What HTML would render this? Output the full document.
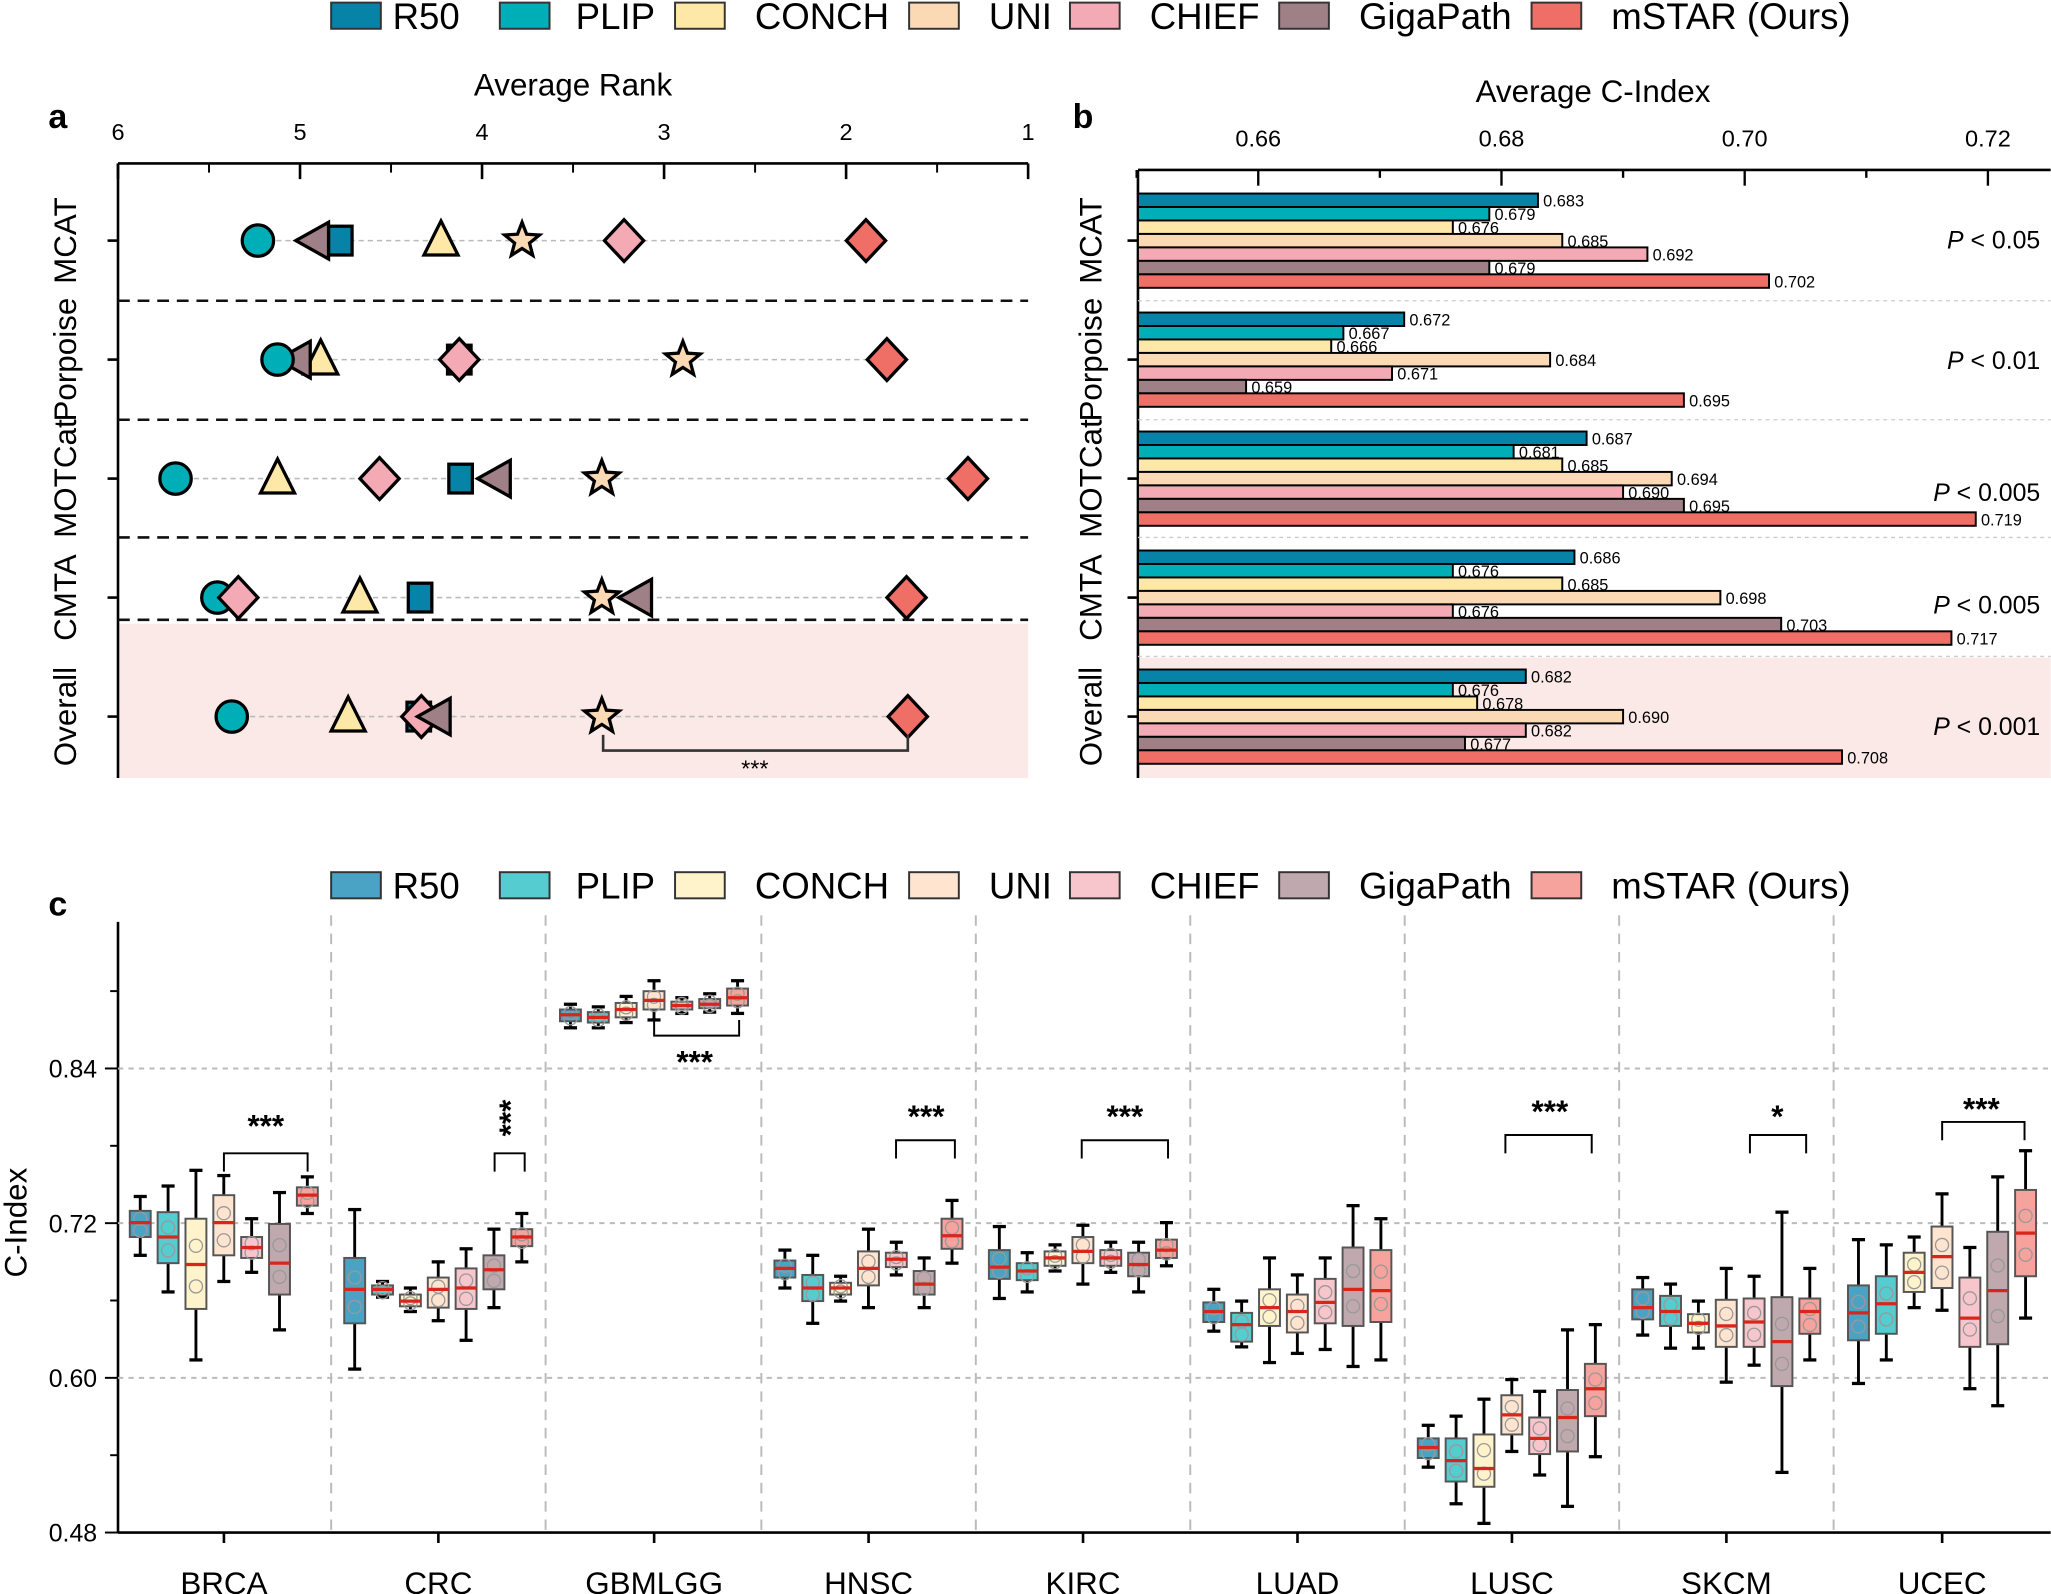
<!DOCTYPE html>
<html><head><meta charset="utf-8"><style>
html,body{margin:0;padding:0;background:#fff;}
svg{display:block;font-family:"Liberation Sans",Arial,sans-serif;}
</style></head><body>
<svg id="s" width="2051" height="1594" viewBox="0 0 1568 1219" xmlns="http://www.w3.org/2000/svg"></svg>
<script>
const S=document.getElementById('s');let h='';
const C=['#0783a8','#00aeb8','#fde8a8','#fcd9b5','#f3aab5','#9e8086','#ef6f67'];
const CL=['#4aa3c4','#55ccd0','#fff3cc','#ffe5d0','#f7c6cc','#bfa9ae','#f5a39c'];
const N=['R50','PLIP','CONCH','UNI','CHIEF','GigaPath','mSTAR (Ours)'];
const sw=[253,382,516,695,818,978,1171],tx=[300,440,577,756,879,1039,1232];
function legend(y,cols){for(let i=0;i<7;i++){h+=`<rect x="${sw[i]}" y="${y-10}" width="38" height="20" fill="${cols[i]}" stroke="#333" stroke-width="1.5"/><text x="${tx[i]}" y="${y+10}" font-size="28">${N[i]}</text>`;}}
legend(12,C);legend(677,CL);
// panel a
h+=`<text x="44" y="98" font-size="26" font-weight="bold" text-anchor="middle">a</text><text x="438" y="73" font-size="24" text-anchor="middle">Average Rank</text>`;
h+=`<rect x="91" y="477" width="695" height="118" fill="#fbe9e7"/>`;
h+=`<line x1="90" y1="125" x2="786" y2="125" stroke="#000" stroke-width="2"/><line x1="90" y1="125" x2="90" y2="595" stroke="#000" stroke-width="2"/>`;
for(let r=6;r>=1;r--){const x=90+(6-r)*139.2;h+=`<line x1="${x}" y1="125" x2="${x}" y2="137" stroke="#000" stroke-width="2"/><text x="${x}" y="107" font-size="18" text-anchor="middle">${r}</text>`;if(r>1)h+=`<line x1="${x+69.6}" y1="125" x2="${x+69.6}" y2="132" stroke="#000" stroke-width="1.5"/>`;}
const rows=[['MCAT',184],['Porpoise',275],['MOTCat',366],['CMTA',457],['Overall',548]];
rows.forEach(([n,y])=>{h+=`<line x1="82" y1="${y}" x2="90" y2="${y}" stroke="#000" stroke-width="2"/><text transform="translate(58,${y}) rotate(-90)" font-size="24" text-anchor="middle">${n}</text>`;});
[230,321,411,474].forEach(y=>h+=`<line x1="90" y1="${y}" x2="786" y2="${y}" stroke="#111" stroke-width="2" stroke-dasharray="9,6"/>`);
function mk(t,x,y,c){const st=`fill="${c}" stroke="#000" stroke-width="2.5"`;
if(t=='o')return `<circle cx="${x}" cy="${y}" r="12" ${st}/>`;
if(t=='s')return `<rect x="${x-9}" y="${y-11}" width="18" height="22" ${st}/>`;
if(t=='^')return `<polygon points="${x},${y-15} ${x+13},${y+11} ${x-13},${y+11}" ${st}/>`;
if(t=='<')return `<polygon points="${x-14},${y} ${x+11},${y-14} ${x+11},${y+14}" ${st}/>`;
if(t=='d')return `<polygon points="${x},${y-16} ${x+15},${y} ${x},${y+16} ${x-15},${y}" ${st}/>`;
if(t=='*'){let p=[];for(let k=0;k<10;k++){const a=-Math.PI/2+k*Math.PI/5,r=k%2?6:14;p.push((x+r*Math.cos(a)).toFixed(1)+','+(y+r*Math.sin(a)).toFixed(1));}return `<polygon points="${p.join(' ')}" ${st}/>`;}}
const T=['s','o','^','*','d','<','d'];
const pos=[[260,197,337,399,477,240,662],[351,212,245,522,351,226,678],[352,134,212,460,290,379,740],[321,166,275,460,182,487,693],[320,177,266,460,322,333,694]];
rows.forEach(([n,y],ri)=>{const p=pos[ri];h+=`<line x1="${Math.min(...p)}" y1="${y}" x2="${Math.max(...p)}" y2="${y}" stroke="#bbb" stroke-width="1.2" stroke-dasharray="4,3"/>`;
const ord=ri==0?[3,4,6,2,0,5,1]:ri==1?[0,4,3,6,2,5,1]:ri==2?[1,2,4,0,5,3,6]:ri==3?[1,4,2,0,3,5,6]:[1,2,0,4,5,3,6];
ord.forEach(i=>h+=mk(T[i],p[i],y,C[i]));});
h+=`<polyline points="461,562 461,574 694,574 694,562" fill="none" stroke="#333" stroke-width="2"/><text x="577" y="594" font-size="18" text-anchor="middle">***</text>`;
// panel b
h+=`<text x="828" y="98" font-size="26" font-weight="bold" text-anchor="middle">b</text><text x="1218" y="78" font-size="24" text-anchor="middle">Average C-Index</text>`;
h+=`<rect x="871" y="503" width="697" height="92" fill="#fbe9e7"/>`;
h+=`<line x1="870" y1="130" x2="1568" y2="130" stroke="#000" stroke-width="2"/><line x1="870" y1="130" x2="870" y2="595" stroke="#000" stroke-width="2"/>`;
const bx=v=>869+(v-0.65)*9300;
for(let v=0.65;v<0.7251;v+=0.01){const x=bx(v),maj=Math.round(v*100)%2==0;h+=`<line x1="${x}" y1="130" x2="${x}" y2="${maj?142:136}" stroke="#000" stroke-width="1.8"/>`;if(maj&&v>0.655)h+=`<text x="${x}" y="112" font-size="18" text-anchor="middle">${v.toFixed(2)}</text>`;}
[230,321,411,502].forEach(y=>h+=`<line x1="870" y1="${y}" x2="1568" y2="${y}" stroke="#ccc" stroke-width="1" stroke-dasharray="3,3"/>`);
const vals=[[.683,.679,.676,.685,.692,.679,.702],[.672,.667,.666,.684,.671,.659,.695],[.687,.681,.685,.694,.690,.695,.719],[.686,.676,.685,.698,.676,.703,.717],[.682,.676,.678,.690,.682,.677,.708]];
const g0=[148,239,330,421,512],pv=['0.05','0.01','0.005','0.005','0.001'],py=[183,275,376,462,555];
rows.forEach(([n,y],ri)=>{h+=`<line x1="862" y1="${y}" x2="870" y2="${y}" stroke="#000" stroke-width="2"/><text transform="translate(842,${y}) rotate(-90)" font-size="24" text-anchor="middle">${n}</text>`;
vals[ri].forEach((v,i)=>{const yy=g0[ri]+i*10.3;h+=`<rect x="870" y="${yy}" width="${bx(v)-870}" height="10.3" fill="${C[i]}" stroke="#000" stroke-width="1.5"/><text x="${bx(v)+4}" y="${yy+10}" font-size="12.5">${v.toFixed(3)}</text>`;});
h+=`<text x="1560" y="${py[ri]+7}" font-size="19" text-anchor="end"><tspan font-style="italic">P</tspan> &lt; ${pv[ri]}</text>`;});
// panel c
h+=`<text x="44" y="700" font-size="26" font-weight="bold" text-anchor="middle">c</text>`;
const cy=v=>1172-(v-0.48)/0.12*118.3;
h+=`<line x1="90" y1="705" x2="90" y2="1172" stroke="#000" stroke-width="2"/><line x1="90" y1="1172" x2="1568" y2="1172" stroke="#000" stroke-width="2"/>`;
[0.6,0.72,0.84].forEach(v=>h+=`<line x1="90" y1="${cy(v)}" x2="1568" y2="${cy(v)}" stroke="#bbb" stroke-width="1.5" stroke-dasharray="4,4"/>`);
for(let v=0.48;v<0.95;v+=0.06){const maj=Math.round(v*100)%12==0;h+=`<line x1="${maj?80:84}" y1="${cy(v)}" x2="90" y2="${cy(v)}" stroke="#000" stroke-width="1.5"/>`;if(maj)h+=`<text x="74" y="${cy(v)+7}" font-size="19" text-anchor="end">${v.toFixed(2)}</text>`;}
h+=`<text transform="translate(20,935) rotate(-90)" font-size="24" text-anchor="middle">C-Index</text>`;
[253,417,582,746,910,1074,1238,1402].forEach(x=>h+=`<line x1="${x}" y1="700" x2="${x}" y2="1172" stroke="#bbb" stroke-width="1.5" stroke-dasharray="8,6"/>`);
const cats=['BRCA','CRC','GBMLGG','HNSC','KIRC','LUAD','LUSC','SKCM','UCEC'],cx=[171,335,500,664,828,992,1156,1320,1485];
const D=[
[[935,926,946,915,960],[946,927,966,907,988],[967,932,1001,895,1040],[935,914,960,899,980],[954,946,962,932,973],[966,936,990,912,1017],[914,908,922,900,928]],
[[986,962,1012,925,1047],[986,983,990,980,992],[995,990,999,985,1003],[986,977,1000,965,1010],[985,970,1001,955,1025],[971,960,986,940,1000],[946,940,953,928,965]],
[[776,772,781,768,786],[778,774,782,770,786],[772,767,778,762,782],[765,758,772,750,780],[769,766,772,763,775],[768,764,771,760,774],[763,756,769,750,775]],
[[970,964,977,956,985],[985,975,995,960,1012],[985,981,990,976,995],[970,957,983,940,1000],[963,958,969,950,975],[982,972,990,962,1000],[945,932,955,918,966]],
[[969,956,978,938,993],[972,966,979,958,988],[962,957,968,952,972],[957,946,966,937,982],[962,956,968,950,973],[967,958,976,950,988],[956,948,962,935,968]],
[[1003,996,1011,986,1018],[1013,1004,1026,995,1030],[1000,986,1014,962,1042],[1003,990,1019,975,1035],[996,978,1012,962,1032],[986,954,1014,922,1045],[987,956,1011,932,1040]],
[[1107,1100,1115,1090,1122],[1117,1100,1133,1083,1150],[1123,1097,1137,1070,1165],[1082,1067,1097,1055,1110],[1100,1084,1112,1064,1128],[1084,1063,1110,1017,1152],[1062,1043,1083,1013,1114]],
[[1000,986,1009,977,1021],[1003,991,1014,982,1031],[1012,1005,1019,995,1031],[1014,994,1030,970,1057],[1011,993,1030,976,1044],[1026,992,1060,927,1126],[1003,993,1020,970,1040]],
[[1004,983,1025,948,1058],[997,976,1020,952,1040],[973,958,988,946,1000],[961,938,985,913,1002],[1008,977,1030,954,1062],[987,942,1028,900,1075],[943,910,976,880,1008]]];
cats.forEach((c,ci)=>{h+=`<line x1="${cx[ci]}" y1="1172" x2="${cx[ci]}" y2="1180" stroke="#000" stroke-width="2"/><text x="${cx[ci]}" y="1219" font-size="24" text-anchor="middle">${c}</text>`;
D[ci].forEach((d,i)=>{const x=cx[ci]-64+i*21.3,w=16;const [m,q1,q3,lo,hi]=d;
h+=`<line x1="${x}" y1="${lo}" x2="${x}" y2="${hi}" stroke="#000" stroke-width="2.2"/><line x1="${x-5}" y1="${lo}" x2="${x+5}" y2="${lo}" stroke="#000" stroke-width="2.5"/><line x1="${x-5}" y1="${hi}" x2="${x+5}" y2="${hi}" stroke="#000" stroke-width="2.5"/>`;
h+=`<rect x="${x-w/2}" y="${q1}" width="${w}" height="${q3-q1}" fill="${CL[i]}" stroke="#555" stroke-width="1.5"/>`;
[q1+(q3-q1)*0.3,q3-(q3-q1)*0.25].forEach(yy=>h+=`<circle cx="${x}" cy="${yy}" r="5" fill="none" stroke="#999" stroke-width="1"/>`);
h+=`<line x1="${x-w/2}" y1="${m}" x2="${x+w/2}" y2="${m}" stroke="#d9261c" stroke-width="2.5"/>`;});});
function br(x1,x2,y,down,lab,lx,ly,rot){h+=`<polyline points="${x1},${y+(down?-12:14)} ${x1},${y} ${x2},${y} ${x2},${y+(down?-12:14)}" fill="none" stroke="#000" stroke-width="1.5"/>`;
h+=rot?`<text transform="translate(${lx},${ly}) rotate(-90)" font-size="24" font-weight="bold" text-anchor="middle">${lab}</text>`:`<text x="${lx}" y="${ly}" font-size="24" font-weight="bold" text-anchor="middle">${lab}</text>`;}
br(171,235,882,false,'***',203,869);
br(378,401,882,false,'***',398,855,true);
br(500,565,792,true,'***',531,820);
br(685,730,872,false,'***',708,862);
br(827,893,872,false,'***',860,862);
br(1151,1217,868,false,'***',1185,858);
br(1338,1381,868,false,'*',1359,862);
br(1485,1548,858,false,'***',1515,856);
S.innerHTML=h;
</script>
</body></html>
